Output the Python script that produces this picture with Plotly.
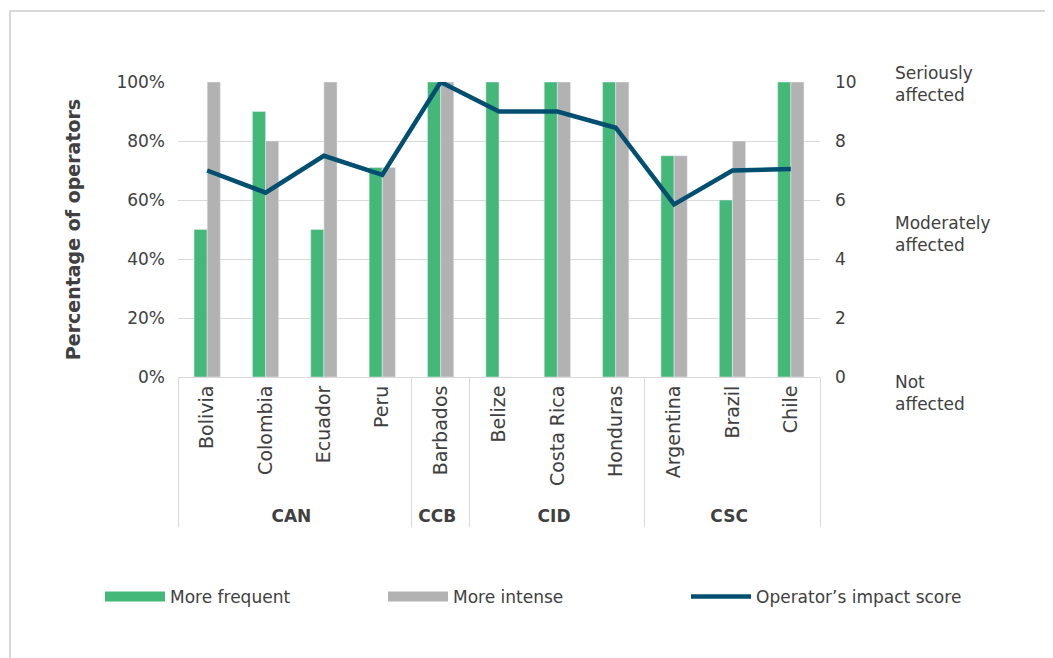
import plotly.graph_objects as go

groups = ["CAN", "CAN", "CAN", "CAN", "CCB", "CID", "CID", "CID", "CSC", "CSC", "CSC"]
countries = ["Bolivia", "Colombia", "Ecuador", "Peru", "Barbados", "Belize",
             "Costa Rica", "Honduras", "Argentina", "Brazil", "Chile"]
more_frequent = [50, 90, 50, 71, 100, 100, 100, 100, 75, 60, 100]
more_intense = [100, 80, 100, 71, 100, 0, 100, 100, 75, 80, 100]
impact_score = [7.0, 6.25, 7.5, 6.85, 10, 9.0, 9.0, 8.45, 5.85, 7.0, 7.05]
score_labels = ["Seriously<br>affected", "Moderately<br>affected", "Not<br>affected"]

GREEN = "#43b878"
GRAY = "#b2b2b2"
NAVY = "#004f71"
TEXT = "#404040"
GRID = "#d9d9d9"
FONT = "DejaVu Sans"

# page has an 8px body margin, so the figure is sized to fit the window
W, H = 1045, 650
L, T, PW, PH = 170, 74, 642, 295

x = [[f"<span style='font-size:17px'><b>{g}</b></span>" for g in groups], countries]

fig = go.Figure()
fig.add_trace(go.Bar(x=x, y=more_frequent, name="More frequent", marker_color=GREEN,
                     showlegend=False))
fig.add_trace(go.Bar(x=x, y=more_intense, name="More intense", marker_color=GRAY,
                     showlegend=False))
fig.add_trace(go.Scatter(x=x, y=impact_score, name="Operator\u2019s impact score",
                         mode="lines", line=dict(color=NAVY, width=4.5), yaxis="y2",
                         legend="legend3"))
# legend entries drawn as wide rectangles like the original key
fig.add_trace(go.Scatter(x=[None], y=[None], mode="lines", name="More frequent",
                         line=dict(color=GREEN, width=14), legend="legend"))
fig.add_trace(go.Scatter(x=[None], y=[None], mode="lines", name="More intense",
                         line=dict(color=GRAY, width=14), legend="legend2"))


def px_x(p):
    return (p - 8 - L) / PW


def px_y(p):
    return (T + PH - (p - 8)) / PH


leg = dict(orientation="h", xanchor="left", yanchor="middle", y=px_y(597),
           font=dict(size=17, color=TEXT), bgcolor="rgba(0,0,0,0)", itemwidth=60)

fig.update_layout(
    width=W, height=H,
    margin=dict(l=L, r=W - L - PW, t=T, b=H - T - PH),
    paper_bgcolor="white", plot_bgcolor="white",
    font=dict(family=FONT, size=17, color=TEXT),
    barmode="group", bargap=0.55, bargroupgap=0,
    showlegend=True,
    legend=dict(leg, x=px_x(100)),
    legend2=dict(leg, x=px_x(383)),
    legend3=dict(leg, x=px_x(686)),
    xaxis=dict(type="multicategory", tickangle=-90, showline=True, linecolor=GRID,
               showdividers=True, dividercolor=GRID, dividerwidth=1,
               ticks="", tickfont=dict(size=19, color=TEXT)),
    yaxis=dict(range=[0, 100], dtick=20, ticksuffix="%", showgrid=True, gridcolor=GRID,
               zeroline=False, showline=False, tickfont=dict(size=17, color=TEXT),
               ticklabelstandoff=12,
               title=dict(text="<b>Percentage of operators</b>", standoff=30,
                          font=dict(size=19, color=TEXT))),
    yaxis2=dict(range=[0, 10], dtick=2, overlaying="y", side="right", showgrid=False,
                zeroline=False, showline=False, tickfont=dict(size=17, color=TEXT),
                ticklabelstandoff=14),
)

for label, yp in zip(score_labels, [84, 234, 393]):
    fig.add_annotation(text=label, xref="paper", yref="paper", x=px_x(893), y=px_y(yp),
                       xanchor="left", yanchor="middle", showarrow=False, align="left",
                       font=dict(size=17, color=TEXT))

# outer frame
fig.add_shape(type="rect", xref="paper", yref="paper",
              x0=px_x(10), x1=px_x(1070), y0=px_y(680), y1=px_y(11),
              line=dict(color="#cccccc", width=1.5), fillcolor="rgba(0,0,0,0)", layer="below")

fig.write_html("out.html")
